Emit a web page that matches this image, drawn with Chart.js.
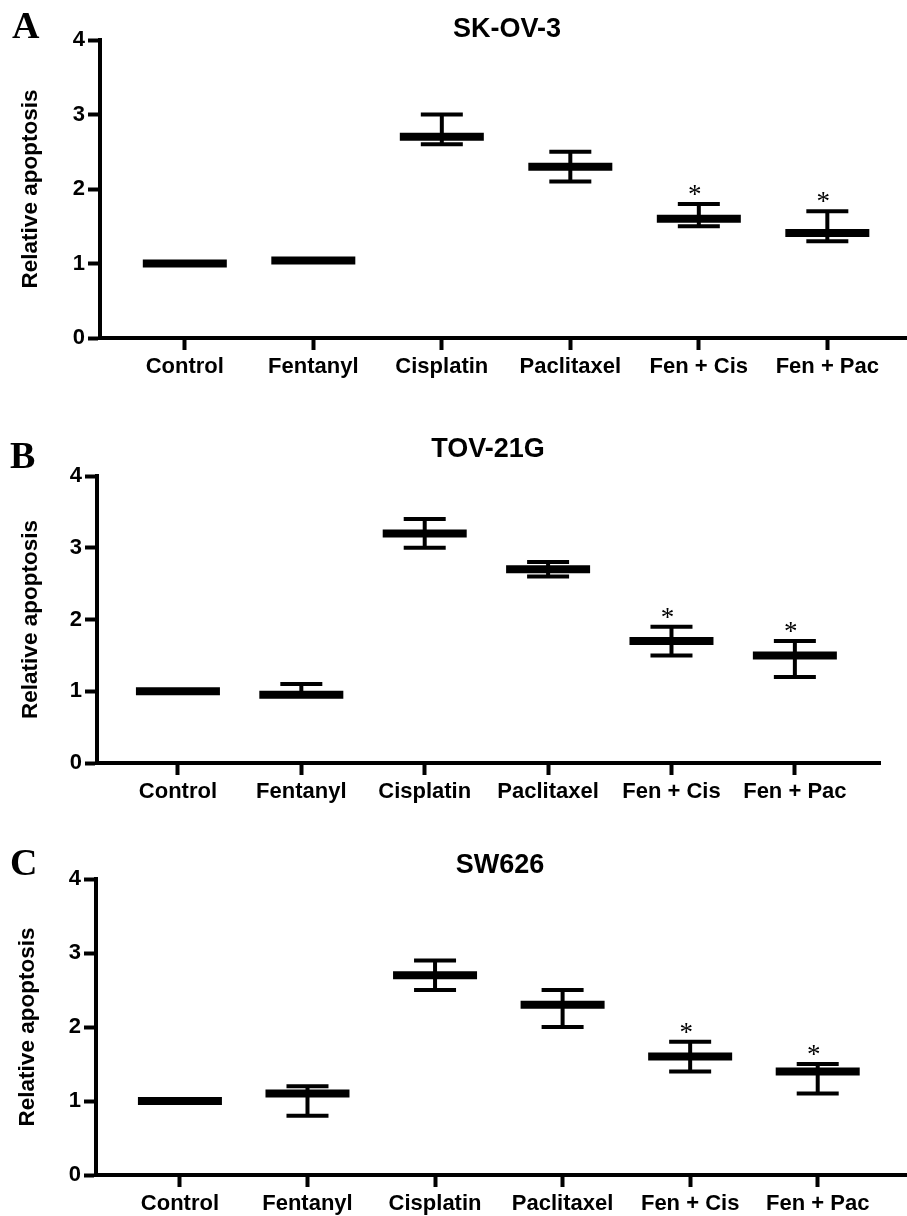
<!DOCTYPE html>
<html>
<head>
<meta charset="utf-8">
<script src="https://cdn.jsdelivr.net/npm/chart.js@4.4.1/dist/chart.umd.min.js"></script>
<style>
  body { margin: 0; background: #fff; }
  #wrap { position: relative; width: 907px; height: 1216px; overflow: hidden; }
  .panel { position: absolute; left: 0; width: 907px; }
</style>
</head>
<body>
<div id="wrap">
  <div class="panel" style="top:0px;height:385px"><canvas id="chartA"></canvas></div>
  <div class="panel" style="top:395px;height:415px"><canvas id="chartB"></canvas></div>
  <div class="panel" style="top:815px;height:401px"><canvas id="chartC"></canvas></div>
</div>
<script>
// groups on the x axis
const groups = ['Control', 'Fentanyl', 'Cisplatin', 'Paclitaxel', 'Fen + Cis', 'Fen + Pac'];
const yTicks = [0, 1, 2, 3, 4];
const significant = [false, false, false, false, true, true];

// SK-OV-3
const skov3Mean  = [1.0, 1.04, 2.7, 2.3, 1.6, 1.41];
const skov3Upper = [1.0, 1.04, 3.0, 2.5, 1.8, 1.7];
const skov3Lower = [1.0, 1.04, 2.6, 2.1, 1.5, 1.3];

// TOV-21G
const tov21gMean  = [1.0, 0.95, 3.2, 2.7, 1.7, 1.5];
const tov21gUpper = [1.0, 1.1, 3.4, 2.8, 1.9, 1.7];
const tov21gLower = [1.0, 0.95, 3.0, 2.6, 1.5, 1.2];

// SW626
const sw626Mean  = [1.0, 1.1, 2.7, 2.3, 1.6, 1.4];
const sw626Upper = [1.0, 1.2, 2.9, 2.5, 1.8, 1.5];
const sw626Lower = [1.0, 0.8, 2.5, 2.0, 1.4, 1.1];

const SANS = "'Liberation Sans', Arial, sans-serif";
const SERIF = "'Liberation Serif', 'Times New Roman', serif";

/* letter, title and asterisks */
const textPlugin = {
  id: 'panelText',
  afterDatasetsDraw(chart, args, opts) {
    const ctx = chart.ctx;
    const xs = chart.scales.x, ys = chart.scales.y;
    ctx.save();
    ctx.fillStyle = '#000';
    ctx.textBaseline = 'alphabetic';

    ctx.font = 'bold 38px ' + SERIF;
    ctx.textAlign = 'left';
    ctx.fillText(opts.letter, opts.letterX, opts.letterY);

    ctx.font = 'bold 27px ' + SANS;
    ctx.textAlign = 'center';
    ctx.fillText(opts.title, opts.titleX, opts.titleY);

    ctx.font = '27px ' + SERIF;
    opts.upper.forEach((v, i) => {
      if (!significant[i]) return;
      ctx.fillText('*', xs.getPixelForValue(i) - 4, ys.getPixelForValue(v) - 1);
    });
    ctx.restore();
  }
};

function noPad(s) {
  s.paddingLeft = 0; s.paddingRight = 0; s.paddingTop = 0; s.paddingBottom = 0;
}

function makeChart(id, p) {
  const idx = groups.map((g, i) => i);
  const datasets = [
    {
      // mean bar
      type: 'scatter',
      data: idx.map(i => ({ x: i, y: p.mean[i] })),
      pointStyle: 'line', pointRadius: 42, borderWidth: 8,
      borderColor: '#000', backgroundColor: '#000'
    },
    {
      // caps
      type: 'scatter',
      data: idx.map(i => ({ x: i, y: p.upper[i] })).concat(idx.map(i => ({ x: i, y: p.lower[i] }))),
      pointStyle: 'line', pointRadius: 21, borderWidth: 4,
      borderColor: '#000', backgroundColor: '#000'
    }
  ];
  idx.forEach(i => {
    // stem
    datasets.push({
      type: 'line',
      data: [{ x: i, y: p.lower[i] }, { x: i, y: p.upper[i] }],
      borderColor: '#000', borderWidth: 4, pointRadius: 0, fill: false
    });
  });

  new Chart(document.getElementById(id), {
    type: 'scatter',
    data: { datasets },
    plugins: [textPlugin],
    options: {
      responsive: true,
      maintainAspectRatio: false,
      animation: false,
      events: [],
      layout: { autoPadding: false, padding: { top: p.padTop, right: p.padRight, left: 0, bottom: 0 } },
      plugins: {
        legend: { display: false },
        tooltip: { enabled: false },
        panelText: {
          letter: p.letter, letterX: p.letterX, letterY: p.letterY,
          title: p.title, titleX: p.titleX, titleY: p.titleY,
          upper: p.upper
        }
      },
      scales: {
        x: {
          type: 'linear',
          min: p.xMin, max: p.xMax,
          afterFit(s) { s.height = p.xAxisHeight; noPad(s); },
          afterBuildTicks(s) { s.ticks = idx.map(i => ({ value: i })); },
          ticks: {
            autoSkip: false, maxRotation: 0, padding: 4,
            color: '#000',
            font: { family: SANS, size: 22, weight: 'bold' },
            callback: v => groups[v]
          },
          grid: { drawOnChartArea: false, drawTicks: true, tickLength: 12, tickWidth: 4, tickColor: '#000' },
          border: { display: true, width: 4, color: '#000' }
        },
        y: {
          min: 0, max: 4,
          afterFit(s) { s.width = p.yAxisWidth; noPad(s); },
          afterBuildTicks(s) { s.ticks = yTicks.map(v => ({ value: v })); },
          ticks: {
            padding: 3, color: '#000',
            font: { family: SANS, size: 22, weight: 'bold' }
          },
          grid: { drawOnChartArea: false, drawTicks: true, tickLength: 12, tickWidth: 4, tickColor: '#000' },
          border: { display: true, width: 4, color: '#000' },
          title: {
            display: true, text: 'Relative apoptosis', color: '#000',
            font: { family: SANS, size: 22.5, weight: 'bold' },
            padding: { top: p.yTitlePad, bottom: 0 }
          }
        }
      }
    }
  });
}

makeChart('chartA', {
  mean: skov3Mean, upper: skov3Upper, lower: skov3Lower,
  letter: 'A', letterX: 12, letterY: 38,
  title: 'SK-OV-3', titleX: 507, titleY: 37,
  padTop: 40, padRight: 0, yAxisWidth: 100, xAxisHeight: 47,
  xMin: -0.66, xMax: 5.62, yTitlePad: 17
});

makeChart('chartB', {
  mean: tov21gMean, upper: tov21gUpper, lower: tov21gLower,
  letter: 'B', letterX: 10, letterY: 73,
  title: 'TOV-21G', titleX: 488, titleY: 62,
  padTop: 81, padRight: 27, yAxisWidth: 97, xAxisHeight: 47,
  xMin: -0.656, xMax: 5.69, yTitlePad: 17
});

makeChart('chartC', {
  mean: sw626Mean, upper: sw626Upper, lower: sw626Lower,
  letter: 'C', letterX: 10, letterY: 60,
  title: 'SW626', titleX: 500, titleY: 58,
  padTop: 64, padRight: 0, yAxisWidth: 96, xAxisHeight: 41,
  xMin: -0.658, xMax: 5.70, yTitlePad: 14
});
</script>
</body>
</html>
